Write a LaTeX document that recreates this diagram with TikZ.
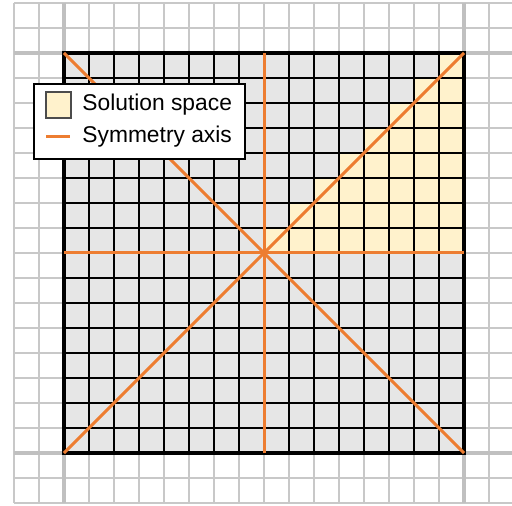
\documentclass[tikz,border=0pt]{standalone}
\usepackage{fontspec}
\setmainfont{Liberation Sans}
\definecolor{axisor}{HTML}{ED7D31}
\definecolor{solfill}{HTML}{FFF2CC}
\definecolor{cellgray}{HTML}{E6E6E6}
\definecolor{gridgray}{HTML}{C8C8C8}
\definecolor{gridgraydark}{HTML}{C0C0C0}
\tikzset{
  bggrid/.style={draw=gridgray, line width=0.6pt},
  bgaxis/.style={draw=gridgraydark, line width=2pt},
  cellline/.style={draw=black, line width=0.9pt},
  symaxis/.style={draw=axisor, line width=1.5pt},
  legendtext/.style={anchor=base west, inner sep=0pt, font=\fontsize{11.4}{13}\selectfont}
}
\begin{document}
\begin{tikzpicture}[x=0.5pt,y=-0.5pt]
\useasboundingbox (0,0) rectangle (512,506);
\begin{scope}
\clip (0,0) rectangle (512,506);
\foreach \x in {14,39,...,514} \draw[bggrid] (\x,3) -- (\x,503);
\foreach \y in {3,28,...,503} \draw[bggrid] (14,\y) -- (514,\y);
\draw[bgaxis] (64,3) -- (64,503);
\draw[bgaxis] (464,3) -- (464,503);
\draw[bgaxis] (14,53) -- (514,53);
\draw[bgaxis] (14,453) -- (514,453);
\end{scope}
% board
\fill[cellgray] (64,53) rectangle (464,453);
\foreach \j in {0,...,7}
  \fill[solfill] ({264+25*(7-\j)},{53+25*\j}) rectangle (464,{78+25*\j});
\foreach \x in {89,114,...,439} \draw[cellline] (\x,53) -- (\x,453);
\foreach \y in {78,103,...,428} \draw[cellline] (64,\y) -- (464,\y);
\draw[draw=black, line width=1.6pt] (64,53) rectangle (464,453);
% symmetry axes
\coordinate (c) at (264,253);
\coordinate (tl) at (64,53);
\coordinate (tr) at (464,53);
\coordinate (bl) at (64,453);
\coordinate (br) at (464,453);
\coordinate (tm) at (264,53);
\coordinate (bm) at (264,453);
\coordinate (lm) at (64,253);
\coordinate (rm) at (464,253);
\draw[symaxis] (tl) -- (br);
\draw[symaxis] (bl) -- (tr);
\draw[symaxis] (tm) -- (bm);
\draw[symaxis] (lm) -- (rm);
% legend
\draw[fill=white, draw=black, line width=0.9pt] (34,84) rectangle (245,159);
\draw[fill=solfill, draw=black!70, line width=0.6pt] (46,92) rectangle (71,118);
\node[legendtext] (t1) at (82,111) {Solution space};
\coordinate (la) at (46,137);
\coordinate (lb) at (70,137);
\draw[symaxis] (la) -- (lb);
\node[legendtext] (t2) at (82,143) {Symmetry axis};
\end{tikzpicture}
\end{document}
